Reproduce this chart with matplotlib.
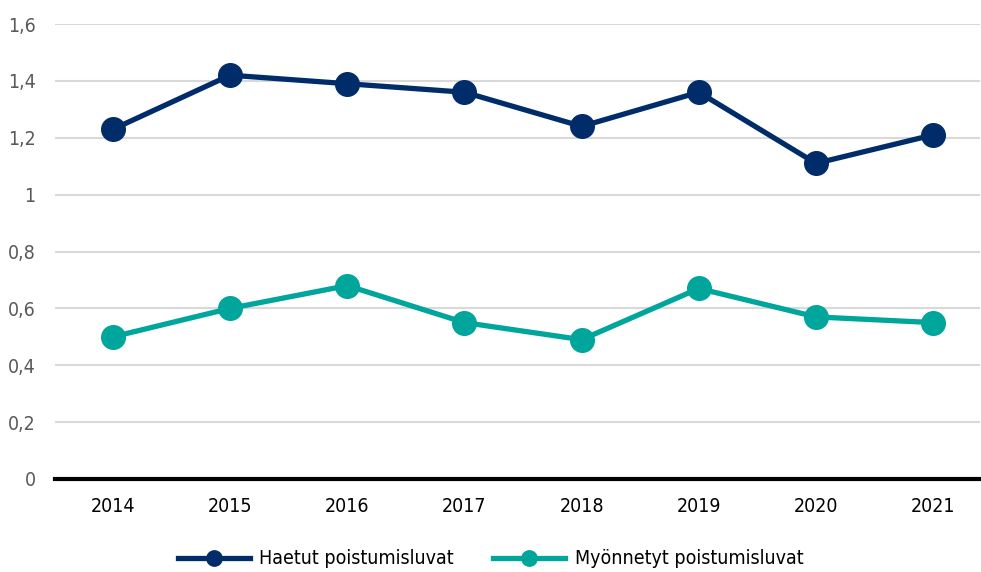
import matplotlib
matplotlib.use("Agg")
import matplotlib.pyplot as plt
from matplotlib.ticker import FuncFormatter

years = ["2014", "2015", "2016", "2017", "2018", "2019", "2020", "2021"]
haetut = [1.23, 1.42, 1.39, 1.36, 1.24, 1.36, 1.11, 1.21]
myonnetyt = [0.50, 0.60, 0.68, 0.55, 0.49, 0.67, 0.57, 0.55]
series_names = ["Haetut poistumisluvat", "Myönnetyt poistumisluvat"]
yticks = [0, 0.2, 0.4, 0.6, 0.8, 1.0, 1.2, 1.4, 1.6]

plt.rcParams['font.family'] = ['DejaVu Sans']
plt.rcParams['font.stretch'] = 'condensed'

fig = plt.figure(figsize=(9.81, 5.72), dpi=100)
ax = fig.add_axes([55/981, 1-479/572, (980-55)/981, (479-24)/572])

x = list(range(len(years)))
c1, c2 = "#002D6A", "#00A59B"
ax.plot(x, haetut, color=c1, lw=3.8, marker="o", ms=17, label=series_names[0], zorder=3)
ax.plot(x, myonnetyt, color=c2, lw=3.8, marker="o", ms=17, label=series_names[1], zorder=3)

ax.set_ylim(0, 1.6)
ax.set_xlim(-0.495, 7.4)
ax.set_yticks(yticks)
def fmt(v, pos):
    s = ("%.1f" % v).rstrip("0").rstrip(".")
    return s.replace(".", ",")
ax.yaxis.set_major_formatter(FuncFormatter(fmt))
ax.set_xticks(x)
ax.set_xticklabels(years)
ax.grid(axis="y", color="#D9D9D9", lw=1.5)
ax.set_axisbelow(True)
for s in ["top", "right", "left"]:
    ax.spines[s].set_visible(False)
ax.spines["bottom"].set_color("black")
ax.spines["bottom"].set_linewidth(3)
ax.spines["bottom"].set_zorder(4)
ax.tick_params(axis="both", length=0, labelsize=14)
ax.tick_params(axis="y", colors="#595959", pad=14)
ax.tick_params(axis="x", colors="black", pad=13)

leg = fig.legend(loc="center", bbox_to_anchor=(0.5, 1-559/572), ncol=2, frameon=False,
                 fontsize=14, handlelength=3.7, columnspacing=2.0, handletextpad=0.5,
                 markerscale=0.65)
fig.savefig("out.png", dpi=100)
